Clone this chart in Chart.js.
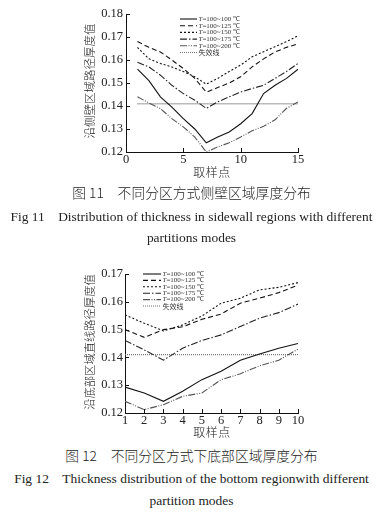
<!DOCTYPE html>
<html><head><meta charset="utf-8">
<script src="https://cdn.jsdelivr.net/npm/chart.js@4/dist/chart.umd.min.js"></script>
<style>
body{margin:0;background:#fff;width:383px;height:517px;position:relative;overflow:hidden;font-family:"Liberation Serif","Noto Sans CJK SC",serif;color:#222}
canvas{position:absolute;left:0}
.cap{position:absolute;left:0;width:383px;text-align:center;white-space:nowrap;line-height:1}
.cn{font-family:"Noto Sans CJK SC",sans-serif;font-size:13.8px;font-weight:300}
.en{font-size:13.45px}
.yt{position:absolute;white-space:nowrap;font-family:"Noto Sans CJK SC",sans-serif;font-weight:300;line-height:1;transform:translate(-50%,-50%) rotate(-90deg);color:#222}
.xt{position:absolute;white-space:nowrap;font-family:"Noto Sans CJK SC",sans-serif;font-weight:300;font-size:12px;letter-spacing:0.5px;line-height:1;transform:translate(-50%,-50%);color:#222}
</style></head><body>
<canvas id="c1" width="383" height="185" style="top:0"></canvas>
<canvas id="c2" width="383" height="180" style="top:262px"></canvas>
<div class="yt" style="left:90px;top:81px;font-size:11.5px">沿侧壁区域路径厚度值</div>
<div class="xt" style="left:212px;top:172px">取样点</div>
<div class="yt" style="left:90px;top:342px;font-size:11.3px">沿底部区域直线路径厚度值</div>
<div class="xt" style="left:212px;top:432px">取样点</div>
<div class="cap cn" style="top:186px">图 11　不同分区方式侧壁区域厚度分布</div>
<div class="cap en" style="top:210px">Fig 11　Distribution of thickness in sidewall regions with different</div>
<div class="cap en" style="top:231px">partitions modes</div>
<div class="cap cn" style="top:449px">图 12　不同分区方式下底部区域厚度分布</div>
<div class="cap en" style="top:472px">Fig 12　Thickness distribution of the bottom regionwith different</div>
<div class="cap en" style="top:494px">partition modes</div>
<script>
const seriesNames = ['T=100~100 ℃','T=100~125 ℃','T=100~150 ℃','T=100~175 ℃','T=100~200 ℃','失效线'];

// Fig 11 : sidewall
const x1 = [1,2,3,4,5,6,7,8,9,10,11,12,13,14,15];
const s1_100 = [0.156,0.151,0.144,0.1395,0.1345,0.130,0.124,0.1265,0.1287,0.1323,0.1367,0.1454,0.149,0.152,0.156];
const s1_125 = [0.168,0.1655,0.1635,0.160,0.1563,0.152,0.146,0.148,0.150,0.1527,0.157,0.1605,0.1635,0.1655,0.167];
const s1_150 = [0.1655,0.1605,0.1585,0.157,0.155,0.1527,0.1495,0.152,0.155,0.1578,0.1614,0.1636,0.1658,0.168,0.1705];
const s1_175 = [0.159,0.157,0.1534,0.149,0.1454,0.1425,0.139,0.1418,0.144,0.1461,0.1476,0.149,0.152,0.155,0.1585];
const s1_200 = [0.144,0.1413,0.1389,0.1345,0.1309,0.1265,0.120,0.1222,0.124,0.1265,0.1292,0.1312,0.134,0.139,0.1418];
const s1_fail = [0.141,0.141,0.141,0.141,0.141,0.141,0.141,0.141,0.141,0.141,0.141,0.141,0.141,0.141,0.141];

// Fig 12 : bottom
const x2 = [1,2,3,4,5,6,7,8,9,10];
const s2_100 = [0.1293,0.1272,0.1242,0.1278,0.132,0.135,0.139,0.1412,0.1433,0.145];
const s2_125 = [0.150,0.1472,0.150,0.151,0.1537,0.1556,0.1595,0.1613,0.1633,0.166];
const s2_150 = [0.1553,0.1523,0.1495,0.1517,0.1549,0.1595,0.1613,0.1643,0.1652,0.1669];
const s2_175 = [0.1461,0.1427,0.139,0.1433,0.1461,0.1481,0.1511,0.1541,0.1561,0.1592];
const s2_200 = [0.1242,0.1212,0.123,0.126,0.1272,0.132,0.1341,0.137,0.139,0.143];
const s2_fail = [0.141,0.141,0.141,0.141,0.141,0.141,0.141,0.141,0.141,0.141];

const styles = [
  {c:'#111', d:[]},
  {c:'#111', d:[5,3]},
  {c:'#111', d:[2,2]},
  {c:'#222', d:[7,2,1.5,2]},
  {c:'#555', d:[7,1.5,1,1.5,1,1.5]},
  {c:'#777', d:[1,1]}
];

function makeSets(xs, arrs){
  return arrs.map((a,i)=>({
    label: seriesNames[i],
    data: xs.map((x,j)=>({x:x, y:a[j]})),
    borderColor: styles[i].c, borderDash: styles[i].d, borderWidth: i===5?1.4:1.1,
    pointRadius:0, tension:0, fill:false
  }));
}

const inTicks = {
  id:'inTicks',
  afterDraw(chart){
    const ctx=chart.ctx, a=chart.chartArea;
    const xs=chart.scales.x, ys=chart.scales.y;
    ctx.save(); ctx.strokeStyle='#111'; ctx.lineWidth=1;
    ctx.beginPath();
    xs.ticks.forEach(t=>{const p=Math.round(xs.getPixelForValue(t.value))+0.5; ctx.moveTo(p,a.bottom); ctx.lineTo(p,a.bottom-4);});
    ys.ticks.forEach(t=>{const p=Math.round(ys.getPixelForValue(t.value))+0.5; ctx.moveTo(a.left,p); ctx.lineTo(a.left+4,p);});
    ctx.stroke(); ctx.restore();
  }
};

const miniLegend = {
  id:'miniLegend',
  afterDraw(chart, args, o){
    const ctx=chart.ctx;
    ctx.save();
    chart.data.datasets.forEach((ds,i)=>{
      const y=o.y+i*o.dy;
      ctx.beginPath(); ctx.strokeStyle=ds.borderColor; ctx.lineWidth=1.1; ctx.setLineDash(ds.borderDash);
      ctx.moveTo(o.x,y); ctx.lineTo(o.x+o.len,y); ctx.stroke();
      ctx.setLineDash([]);
      ctx.fillStyle='#333'; ctx.textBaseline='middle';
      let tx=o.x+o.len+1.5;
      let lab=ds.label;
      if(lab.startsWith('T')){
        ctx.font='italic '+o.size+'px "Liberation Serif"';
        ctx.fillText('T',tx,y); tx+=ctx.measureText('T').width;
        lab=lab.slice(1);
        ctx.font=o.size+'px "Liberation Serif"';
      } else {
        ctx.font=o.size+'px "Noto Sans CJK SC"';
      }
      ctx.fillText(lab,tx,y);
    });
    ctx.restore();
  }
};

function build(id, xs, arrs, opt){
  new Chart(document.getElementById(id), {
    type:'line',
    data:{datasets: makeSets(xs, arrs)},
    plugins:[inTicks, miniLegend],
    options:{
      responsive:false, animation:false,
      layout:{padding:{left:0,right:opt.padR,top:opt.padT,bottom:0}},
      plugins:{legend:{display:false}, tooltip:{enabled:false}, miniLegend:opt.leg},
      scales:{
        x:{type:'linear', min:opt.xmin, max:opt.xmax,
           ticks:{stepSize:opt.xstep, color:'#222', padding:0, maxRotation:0, autoSkip:false, font:{family:'"Liberation Serif"', size:12.5}},
           grid:{display:false, drawTicks:false}, border:{display:true,color:'#111',width:1},
           afterFit:s=>{s.height=opt.xh;}},
        y:{min:opt.ymin, max:opt.ymax,
           ticks:{stepSize:0.01, color:'#222', padding:opt.yLabPad, font:{family:'"Liberation Serif"', size:12.5}, callback:v=>v.toFixed(2)},
           grid:{display:false, drawTicks:false}, border:{display:true,color:'#111',width:1},
           afterFit:s=>{s.width=opt.yw;}}
      }
    }
  });
}

build('c1', x1, [s1_100,s1_125,s1_150,s1_175,s1_200,s1_fail], {
  padR:85, padT:14, xmin:0, xmax:15, xstep:5, ymin:0.12, ymax:0.18, xh:33, yw:126, yLabPad:3,
  leg:{x:180, y:19, dy:6.7, len:17, size:7}
});
build('c2', x2, [s2_100,s2_125,s2_150,s2_175,s2_200,s2_fail], {
  padR:85, padT:12, xmin:1, xmax:10, xstep:1, ymin:0.12, ymax:0.17, xh:29, yw:125, yLabPad:2,
  leg:{x:143, y:12, dy:6.4, len:18, size:7}
});
</script>
</body></html>
